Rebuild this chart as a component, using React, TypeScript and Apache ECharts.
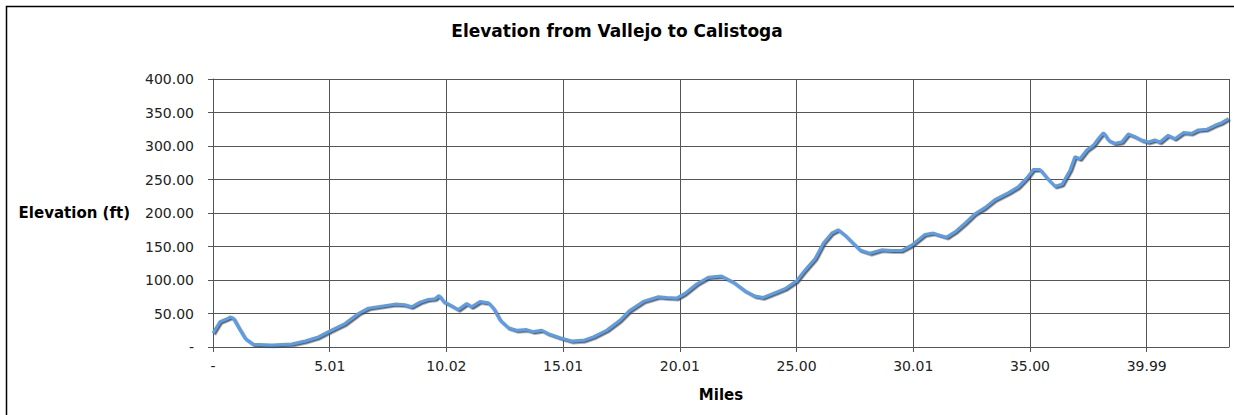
import React, { useEffect, useRef } from "react";
import * as echarts from "echarts";

const miles = [
  0.0, 0.3, 0.66, 0.73, 0.87, 1.08, 1.37, 1.73, 2.52, 3.37, 3.95, 4.52, 5.02, 5.66, 6.23, 6.66,
  7.23, 7.8, 8.23, 8.52, 8.88, 9.23, 9.52, 9.69, 9.88, 10.16, 10.52, 10.88, 11.09, 11.45, 11.81,
  12.02, 12.31, 12.66, 13.02, 13.45, 13.74, 14.1, 14.38, 14.88, 15.38, 15.88, 16.31, 16.88, 17.45,
  17.88, 18.45, 19.1, 19.46, 19.88, 20.24, 20.74, 21.24, 21.81, 22.31, 22.81, 23.24, 23.6, 24.03,
  24.53, 25.03, 25.39, 25.82, 26.17, 26.53, 26.81, 27.1, 27.39, 27.74, 28.17, 28.67, 29.1, 29.53,
  29.96, 30.53, 30.89, 31.17, 31.46, 31.82, 32.25, 32.68, 33.1, 33.53, 34.1, 34.53, 34.89, 35.18,
  35.46, 35.82, 36.11, 36.41, 36.75, 36.96, 37.18, 37.47, 37.75, 37.96, 38.18, 38.39, 38.68, 38.97,
  39.25, 39.54, 39.82, 40.11, 40.39, 40.61, 40.96, 41.25, 41.61, 41.97, 42.25, 42.61, 42.97, 43.26,
  43.55,
];

const elevation = [
  21, 38, 43, 45, 43, 30, 13, 4, 3, 4.5, 9, 15, 24, 35, 50, 58,
  61, 64, 63, 60, 67, 71, 72, 77, 68, 63, 56, 65, 60, 68, 66,
  58, 40, 29, 25, 26, 23, 25, 20, 14, 9, 10, 15, 25, 40,
  55, 68, 75, 74, 73, 80, 94, 104, 106, 97, 84, 76, 74, 80,
  87, 99, 115, 132, 155, 170, 175, 167, 157, 145, 140, 145, 144, 144,
  152, 168, 170, 167, 164, 172, 185, 199, 208, 220, 230, 239, 252, 265,
  265, 250, 240, 243, 264, 284, 281, 294, 301, 311, 320, 309, 304, 306,
  318, 314, 309, 306, 309, 306, 316, 311, 320, 319, 324, 325, 331, 335,
  341,
];

const xTickLabels = ["-", "5.01", "10.02", "15.01", "20.01", "25.00", "30.01", "35.00", "39.99"];
const xTickStep = 5.005;
const xMax = 43.57;

const title = "Elevation from Vallejo to Calistoga";
const yName = "Elevation (ft)";
const xName = "Miles";

const FONT = "DejaVu Sans";

export default function App() {
  const ref = useRef<HTMLDivElement>(null);

  useEffect(() => {
    document.body.style.margin = "0";
    const chart = echarts.init(ref.current!, null, { renderer: "svg" });
    const data = miles.map((m, i) => [m, elevation[i]]);
    const gridColor = "#555555";
    chart.setOption({
      animation: false,
      backgroundColor: "#ffffff",
      textStyle: { fontFamily: FONT },
      title: {
        text: title,
        left: "center",
        top: 17,
        textStyle: { fontFamily: FONT, fontSize: 17, fontWeight: "bold", color: "#000" },
      },
      graphic: [
        {
          type: "rect",
          shape: { x: 6.5, y: 6.5, width: 1240, height: 420 },
          style: { fill: "none", stroke: "#000", lineWidth: 1.5 },
          silent: true,
          z: 100,
        },
      ],
      grid: { left: 213, right: 5, top: 79, bottom: 68, containLabel: false },
      xAxis: {
        type: "value",
        min: 0,
        max: xMax,
        interval: xTickStep,
        name: xName,
        nameLocation: "middle",
        nameGap: 40,
        nameTextStyle: { fontFamily: FONT, fontSize: 15, fontWeight: "bold", color: "#000" },
        axisLine: { show: true, lineStyle: { color: gridColor, width: 1 } },
        axisTick: { show: true, length: 5, lineStyle: { color: gridColor } },
        splitLine: { show: true, lineStyle: { color: gridColor, width: 1 } },
        axisLabel: {
          margin: 12,
          fontFamily: FONT,
          fontSize: 14,
          color: "#222",
          showMaxLabel: false,
          formatter: (v: number) => {
            const idx = v / xTickStep;
            const r = Math.round(idx);
            if (Math.abs(idx - r) > 0.01) return "";
            return xTickLabels[r] ?? "";
          },
        },
      },
      yAxis: {
        type: "value",
        min: 0,
        max: 400,
        interval: 50,
        name: yName,
        nameLocation: "middle",
        nameRotate: 0,
        nameGap: 83,
        nameTextStyle: { fontFamily: FONT, fontSize: 15, fontWeight: "bold", color: "#000" },
        axisLine: { show: true, lineStyle: { color: gridColor, width: 1 } },
        axisTick: { show: true, length: 5, lineStyle: { color: gridColor } },
        splitLine: { show: true, lineStyle: { color: gridColor, width: 1 } },
        axisLabel: {
          margin: 19,
          fontFamily: FONT,
          fontSize: 14,
          color: "#222",
          formatter: (v: number) => (v === 0 ? "-" : v.toFixed(2)),
        },
      },
      series: [
        {
          type: "line",
          data,
          showSymbol: false,
          symbol: "none",
          smooth: false,
          lineStyle: {
            color: "#5a9de8",
            width: 3,
            shadowColor: "rgba(70,70,70,0.85)",
            shadowBlur: 1,
            shadowOffsetX: 1.5,
            shadowOffsetY: 1.5,
          },
        },
      ],
    });
    return () => chart.dispose();
  }, []);

  return <div ref={ref} style={{ width: 1234, height: 415 }} />;
}
